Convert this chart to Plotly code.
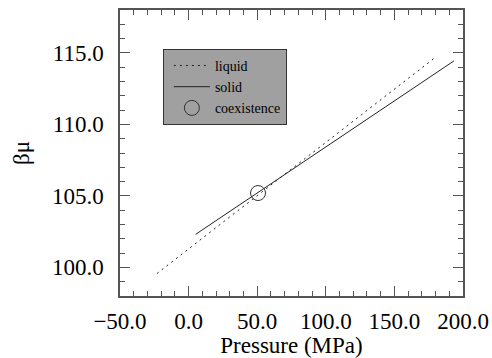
import plotly.graph_objects as go

# Data
liquid_p = [-23.0, 180.3]
liquid_mu = [99.58, 114.72]
solid_p = [5.1, 193.4]
solid_mu = [102.31, 114.44]
coex_p = [50.6]
coex_mu = [105.2]

x_ticks = [-50, 0, 50, 100, 150, 200]
y_ticks = [100, 105, 110, 115]

FONT = "Liberation Serif, Times New Roman, serif"

fig = go.Figure()
fig.add_trace(go.Scatter(x=liquid_p, y=liquid_mu, mode="lines", name="liquid",
                         line=dict(color="#222", width=1, dash="2px,4px")))
fig.add_trace(go.Scatter(x=solid_p, y=solid_mu, mode="lines", name="solid",
                         line=dict(color="#222", width=1)))
fig.add_trace(go.Scatter(x=coex_p, y=coex_mu, mode="markers", name="coexistence",
                         marker=dict(symbol="circle-open", size=15, color="#333",
                                     line=dict(width=1, color="#333"))))

axis_common = dict(
    showline=True, linecolor="#555", linewidth=1.5, mirror="ticks",
    ticks="inside", ticklen=10, tickcolor="#555", tickwidth=1,
    showgrid=False, zeroline=False, tickformat=".1f", automargin=False,
    tickfont=dict(family=FONT, size=23, color="black"),
)

fig.update_xaxes(range=[-50, 200], tickvals=x_ticks, ticklabelstandoff=4,
                 minor=dict(ticks="inside", ticklen=5, dtick=10, tickcolor="#555", showgrid=False),
                 title=dict(text="Pressure (MPa)", font=dict(family=FONT, size=23, color="black"),
                            standoff=4),
                 **axis_common)
fig.update_yaxes(range=[98, 118], tickvals=y_ticks, ticklabelstandoff=10,
                 minor=dict(ticks="inside", ticklen=5, dtick=1, tickcolor="#555", showgrid=False),
                 title=dict(text="βμ", font=dict(family=FONT, size=23, color="black"),
                            standoff=16),
                 **axis_common)

fig.update_layout(
    width=492, height=358,
    margin=dict(l=120, r=29, t=10, b=62),
    paper_bgcolor="white", plot_bgcolor="white",
    font=dict(family=FONT, color="black"),
    legend=dict(x=0.125, y=0.864, xanchor="left", yanchor="top",
                bgcolor="#a0a0a0", bordercolor="#333", borderwidth=1,
                font=dict(family=FONT, size=14, color="black"),
                indentation=5, itemwidth=36, tracegroupgap=0),
    showlegend=True,
)

fig.write_html("out.html", config={"responsive": False, "displayModeBar": False},
               post_script="document.body.style.margin='0';document.body.style.overflow='hidden';")
